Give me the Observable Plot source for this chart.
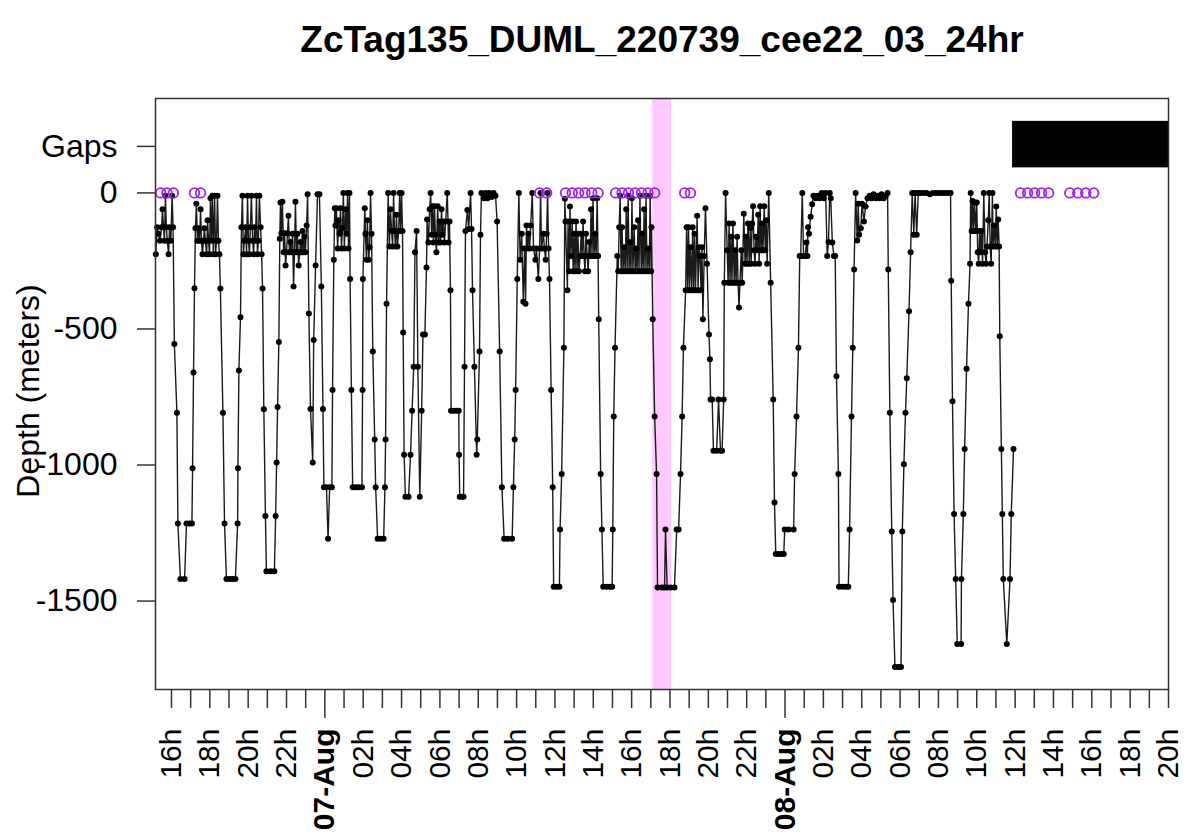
<!DOCTYPE html>
<html><head><meta charset="utf-8">
<script src="https://cdn.jsdelivr.net/npm/d3@7"></script>
<script src="https://cdn.jsdelivr.net/npm/@observablehq/plot@0.6"></script>
<style>body{margin:0;background:#fff} #chart svg{display:block}</style>
</head><body><div id="chart"></div>
<script>
const title = "ZcTag135_DUML_220739_cee22_03_24hr";
// minute offsets are measured from this instant
const startUTC = "2022-08-06T16:00:00Z";

const diveMinutes = [
-49,-45,-41,-36,-31,-28,-25,-22,-19,-16,-13,-9,-6,-2,2,5,
9,17,20,28,41,47,56,64,66,69,72,
75,78,81,85,88,91,94,97,100,103,106,110,113,116,119,122,125,128,131,135,138,141,144,147,150,
153,161,166,172,182,191,200,207,208,211,216,219,
222,225,228,232,235,238,241,244,247,250,254,257,260,263,266,269,272,275,279,282,
285,289,294,297,310,322,326,329,332,336,339,341,
344,347,351,354,357,360,363,366,369,372,376,379,382,385,388,391,394,398,401,404,407,410,413,416,419,423,426,
430,435,442,445,451,457,463,
469,474,477,485,490,495,502,504,508,511,
513,516,520,523,526,529,532,535,538,541,545,548,551,554,557,
559,563,567,576,585,596,598,599,605,
607,610,613,617,620,623,626,
630,636,639,645,654,664,668,670,673,678,
682,685,689,692,695,698,701,704,707,711,714,717,720,723,
725,728,732,742,748,753,758,762,767,771,777,783,787,793,798,800,
804,808,811,814,817,820,823,826,829,833,836,839,842,845,848,851,854,858,863,867,870,
873,875,883,892,899,900,902,909,914,917,920,926,930,936,939,
942,948,955,957,964,967,970,
977,983,989,995,1002,1008,1014,1019,
1027,1034,1041,1052,1066,1070,1074,1077,1082,1087,
1091,1096,1101,1105,1108,1111,1114,1117,1121,1124,1129,1133,1139,1142,1148,1152,1155,1158,1164,1167,1171,1174,1177,1180,
1183,1188,1193,1196,1205,1214,1216,1221,1228,1231,
1233,1239,1241,1244,1247,1250,1254,1257,1260,1263,1266,1269,1272,1275,1279,1282,1285,1288,1291,1294,1297,1301,1304,1307,1310,1313,1316,1319,1322,1326,1329,1332,1335,
1337,1343,1347,1351,1362,1373,1379,1381,1384,1388,1395,
1398,1401,1404,1407,1410,1413,1416,1420,1423,1426,1429,1432,1435,1438,1441,1444,1448,1451,1454,1457,1460,1463,1466,1470,1473,1476,1479,1482,1485,1488,1491,1495,1498,1501,1502,
1506,1512,1518,1521,1534,1543,1546,1551,1562,1574,1581,1587,1593,1598,1602,1609,1612,
1615,1618,1621,1624,1628,1631,1634,1637,1640,1645,1648,1651,1654,1657,1660,1663,1667,1671,1676,1682,1685,
1687,1692,1696,1706,1712,1718,1723,1728,1730,1734,
1739,1742,1745,1748,1751,1754,1757,1761,1764,1767,1770,1773,1776,1779,1783,1786,1791,1795,1798,1801,1804,1808,1811,1814,1817,1820,1823,1826,1829,1833,1836,1839,1842,1845,1848,1851,1855,1858,1861,1864,1869,
1875,1883,1887,1891,1900,1909,1916,1919,1931,1947,1950,1956,1962,1966,
1969,1974,1978,1983,1987,1990,1992,1995,2000,2005,2009,2016,2022,2028,2035,2041,2047,2052,2056,2060,2063,2068,2073,2077,
2081,2087,2089,2100,2110,2118,2122,2128,2132,2136,2141,
2146,2149,2152,2157,2161,2167,2172,2178,2185,2191,2197,2204,2210,2216,2222,2229,2235,2241,
2243,2248,2254,2258,2264,2274,2283,2287,2292,2297,2301,2308,2313,2318,2323,2327,2332,2337,
2344,2354,2363,2373,2382,2391,2401,2410,2419,2429,2438,
2440,2444,2449,2454,2459,2471,2472,2478,2482,2488,2494,2499,2501,
2504,2507,2510,2513,2517,2520,2523,2526,2529,2532,2535,2538,2542,2546,2549,2552,2556,2559,2562,2565,2569,2571,2574,2578,2581,2584,2587,2590,
2592,2597,2600,2603,2614,2624,2628,2635
];

const diveDepth = [
-225,-126,-150,-176,-126,-60,-126,-176,-10,-126,-176,-225,-126,-176,-10,-126,
-555,-808,-1215,-1419,-1419,-1215,-1215,-1215,-1012,-660,-350,
-130,-40,-176,-130,-176,-60,-176,-225,-176,-130,-176,-225,-100,-176,-225,-20,-176,-10,-225,-10,-225,-176,-10,-176,-225,
-351,-808,-1215,-1419,-1419,-1419,-1419,-1215,-1012,-653,-457,-126,
-10,-225,-176,-126,-225,-10,-176,-225,-126,-10,-176,-225,-126,-176,-10,-225,-176,-10,-126,-225,
-351,-795,-1187,-1390,-1390,-1390,-1187,-991,-787,-548,-168,-35,
-148,-32,-218,-148,-267,-218,-148,-84,-218,-180,-218,-150,-344,-218,-32,-218,-150,-267,-218,-180,-218,-140,-218,-160,-218,-120,-5,
-443,-794,-991,-541,-267,-5,-5,
-344,-794,-1082,-1082,-1271,-1082,-1082,-724,-246,-56,
-120,-56,-204,-100,-150,-56,-204,-130,0,-204,-60,-150,0,-204,0,
-316,-724,-1082,-1082,-1082,-1082,-724,-316,-56,
-150,-246,-100,-246,-200,0,-150,
-583,-906,-1082,-1271,-1271,-1271,-1082,-906,-407,0,
-197,-60,-140,-197,0,-140,-197,-80,-197,-140,0,-140,0,-140,
-513,-962,-1117,-1117,-962,-801,-639,-218,-140,-639,-1117,-801,-520,-520,-274,-98,
-182,-60,0,-154,-49,-182,-49,-154,-218,-49,-182,-105,-182,-60,-154,-105,-182,-105,0,-182,-105,
-358,-801,-801,-801,-801,-962,-1117,-1117,-1117,-639,-140,-63,-133,0,-133,
-358,-639,-962,-906,-583,-154,0,
-20,0,-20,0,-15,0,-10,-105,
-583,-1082,-1271,-1271,-1271,-1082,-906,-724,-316,0,
-246,-150,-400,-204,-407,-120,-204,-150,-204,-120,0,-204,-246,-204,-316,-204,0,-204,-150,-204,-246,-150,0,-204,
-316,-724,-1082,-1447,-1447,-1447,-1237,-1033,-569,-21,
-105,-358,-105,-288,-50,-232,-105,-288,-150,-288,-105,-288,-150,-288,-232,-150,-232,-105,-232,-288,-150,-232,-288,-180,-232,-60,-232,-20,-232,-150,-232,-20,-232,
-464,-1033,-1237,-1447,-1447,-1447,-1447,-1237,-822,-569,-232,
-288,-126,-10,-288,-126,-288,-200,-288,-60,-288,-10,-288,-180,-288,-20,-288,-126,-288,-204,-288,-100,-288,-10,-288,-150,-288,-60,-288,-10,-288,-204,-288,-10,-288,-126,
-464,-822,-1033,-1450,-1450,-1450,-1237,-1450,-1450,-1450,-1237,-1237,-1033,-822,-569,-358,-126,
-358,-126,-358,-200,-358,-126,-358,-150,-358,-84,-358,-200,-232,-358,-200,-464,-232,-56,-260,-520,-611,
-759,-759,-948,-948,-759,-948,-948,-759,-330,0,
-211,-330,-112,-330,-161,-330,-112,-330,-211,-330,-161,-330,-421,-330,-211,-330,-77,-260,-161,-260,-112,-260,-130,-260,-112,-49,-211,-260,-161,-211,-80,-260,-49,-211,-112,-211,-49,-211,-100,-260,0,
-330,-759,-1138,-1327,-1327,-1327,-1327,-1237,-1237,-1237,-1033,-822,-569,-232,
-232,0,-232,-232,-182,-232,-126,-150,-88,-42,-10,-20,-10,-20,0,-20,0,-232,-180,0,-20,-182,-232,-232,
-674,-1033,-1447,-1447,-1447,-1447,-1237,-822,-569,-281,0,
-175,-40,-154,-130,-40,-105,-50,-20,-10,-20,-5,-20,-10,-20,-5,-20,-10,0,
-281,-808,-1244,-1496,-1742,-1742,-1742,-1244,-997,-808,-681,-435,-218,0,-154,0,-154,0,
0,0,0,-5,0,0,0,0,0,0,0,
-323,-766,-1180,-1419,-1658,-1658,-1419,-1180,-941,-646,-407,-260,0,
-140,-30,-140,-35,-140,-35,-218,-260,-140,-218,-140,-260,0,-218,-260,-197,-100,0,-197,-260,0,-197,-120,-197,-50,-197,-98,-197,
-527,-941,-1180,-1419,-1658,-1419,-1180,-941
];

// open purple markers drawn on the 0 line
const gapMarkMinutes = [-34,-14,6,72,91,1152,1174,1233,1254,1274,1294,1315,1335,
  1390,1410,1430,1451,1471,1491,1512,1606,1624,
  2657,2679,2701,2723,2745,2811,2836,2861,2886];

const gapBlockMinutes = [2632, 3120];
const gapBlockDepth = [92, 263];
const highlightMinutes = [1506, 1565];
const xDomainMinutes = [-50, 3120];
const yDomain = [-1825, 347];
const gapsLevel = 171;
const yTickValues = [gapsLevel, 0, -500, -1000, -1500];
const yLabel = "Depth (meters)";

const t0 = Date.parse(startUTC);
const toDate = m => new Date(t0 + m * 60000);
const points = diveMinutes.map((m, i) => ({t: toDate(m), d: diveDepth[i]}));

const hours = d3.utcHour.range(toDate(xDomainMinutes[0]), new Date(toDate(xDomainMinutes[1]).getTime() + 1));
const oddHours = hours.filter(d => d.getUTCHours() % 2 === 1);
const evenHours = hours.filter(d => d.getUTCHours() % 2 === 0 && d.getUTCHours() !== 0);
const midnights = hours.filter(d => d.getUTCHours() === 0);

const tickColor = "#333";

const chart = Plot.plot({
  width: 1185, height: 836,
  marginLeft: 155, marginRight: 17, marginTop: 98, marginBottom: 147,
  style: {fontFamily: "'Liberation Sans', Arial, sans-serif", background: "white", color: "black"},
  x: {type: "utc", domain: xDomainMinutes.map(toDate)},
  y: {domain: yDomain},
  marks: [
    Plot.rect([highlightMinutes], {x1: d => toDate(d[0]), x2: d => toDate(d[1]), fill: "#FFC8FF"}),
    Plot.rect([gapBlockMinutes], {x1: d => toDate(d[0]), x2: d => toDate(d[1]), y1: () => gapBlockDepth[0], y2: () => gapBlockDepth[1], fill: "black"}),
    Plot.line(points, {x: d => d.t, y: d => d.d, stroke: "#1a1a1a", strokeWidth: 1.4}),
    Plot.dot(points, {x: d => d.t, y: d => d.d, r: 3, fill: "#000", stroke: null}),
    Plot.dot(gapMarkMinutes, {x: m => toDate(m), y: () => 0, r: 4.8, stroke: "#A020F0", strokeWidth: 1.8, fill: "none"}),
    Plot.frame({stroke: tickColor, strokeWidth: 1.5}),
    Plot.axisX(oddHours, {tickSize: 19, tickFormat: () => "", label: null, stroke: tickColor, strokeWidth: 1.5}),
    Plot.axisX(evenHours, {tickSize: 19, tickPadding: 20, tickRotate: -90, tickFormat: d3.utcFormat("%Hh"), fontSize: 30, label: null, stroke: tickColor, strokeWidth: 1.5}),
    Plot.axisX(midnights, {tickSize: 29, tickPadding: 10, tickRotate: -90, tickFormat: d3.utcFormat("%d-%b"), fontSize: 30, fontWeight: "bold", label: null, stroke: tickColor, strokeWidth: 1.5}),
    Plot.axisY(yTickValues, {tickSize: 18, tickPadding: 20, fontSize: 32, tickFormat: d => d === gapsLevel ? "Gaps" : String(d), label: null, stroke: tickColor, strokeWidth: 1.5}),
    Plot.text([yLabel], {frameAnchor: "left", textAnchor: "middle", dx: -127, dy: -3, rotate: -90, fontSize: 32}),
    Plot.text([title], {frameAnchor: "top", dy: -73, fontSize: 37, fontWeight: "bold"})
  ]
});
document.getElementById("chart").append(chart);
</script>
</body></html>
